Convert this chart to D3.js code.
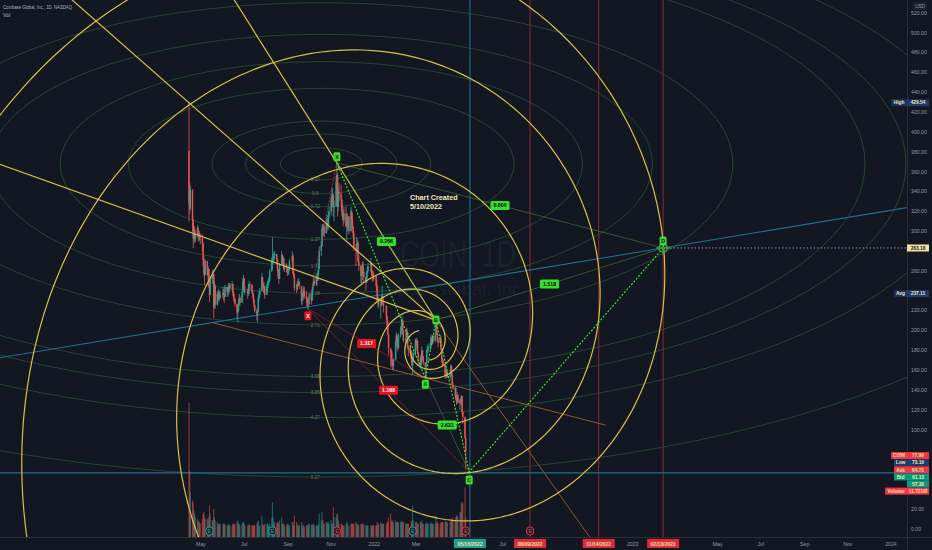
<!DOCTYPE html>
<html>
<head>
<meta charset="utf-8">
<title>COIN 1D</title>
<script src="https://cdn.jsdelivr.net/npm/d3@7"></script>
<style>
  body { margin: 0; background: #131722; }
  svg { display: block; font-family: "Liberation Sans", Arial, sans-serif; }
</style>
</head>
<body>
<script>
'use strict';

// ---------- daily candles (Apr 14 2021 -> May 10 2022) ----------
const firstSession = '2021-04-14';
const firstOpen = 381;
const holidays = ['2021-05-31', '2021-07-05', '2021-09-06', '2021-11-25', '2021-12-24',
  '2022-01-17', '2022-02-21', '2022-04-15'];

const closes = [
  328,323,342,312,293,302,292,297,303,294,297,296,294,
  288,271,258,256,270,256,262,245,236,252,254,257,224,245,226,237,232,238,233,236,
  238,236,234,244,239,240,246,243,245,247,238,233,232,227,218,220,226,233,228,238,249,253,
  240,240,237,243,247,246,239,237,231,225,220,215,219,233,236,240,254,246,243,245,236,
  244,247,249,251,260,270,271,273,275,277,272,262,254,252,266,276,268,273,262,266,263,258,
  260,262,270,275,258,255,243,242,246,248,249,245,230,232,238,240,235,232,225,226,227,
  236,230,240,245,250,247,252,250,258,262,280,285,303,302,305,298,306,308,305,317,320,
  333,334,337,325,325,350,357,325,340,338,332,320,318,311,318,305,305,315,300,320,312,
  305,298,283,280,285,288,270,265,255,258,266,259,254,248,258,260,265,268,258,255,256,252,
  251,244,230,233,226,226,234,235,226,225,214,205,196,182,180,171,168,164,171,189,
  195,192,182,195,200,205,210,200,190,190,200,198,183,180,172,165,170,177,190,
  185,190,178,172,165,170,180,174,168,163,167,180,183,183,185,193,188,194,190,196,206,198,190,
  188,192,181,172,170,165,154,155,158,153,157,164,155,145,142,142,131,128,135,127,
  130,128,134,118,113,92,78
];
const highs = [
  430,349,346,341,310,306,305,300,306,305,300,300,298,
  297,285,275,265,272,270,265,263,250,255,260,262,250,250,247,240,240,242,240,240,
  244,242,238,246,244,243,248,248,248,250,247,240,237,232,225,224,231,237,235,240,252,256,
  250,244,242,246,250,248,247,241,237,232,226,222,222,235,240,243,258,250,248,249,244,
  247,250,252,254,262,274,294,279,278,280,277,271,262,258,268,280,277,275,271,268,268,264,
  263,265,272,280,277,260,257,247,250,252,253,250,242,237,242,245,244,240,234,231,233,
  238,237,242,248,256,253,257,255,260,265,285,290,307,307,308,305,312,316,313,320,325,
  336,344,343,330,331,356,369,358,345,349,347,332,327,322,325,325,310,318,312,325,321,
  318,305,300,287,294,292,290,275,266,262,269,270,262,253,260,264,268,273,266,261,259,260,
  256,255,246,236,232,232,236,245,235,228,222,215,210,190,182,180,179,172,172,190,
  198,197,189,197,203,208,215,212,200,192,202,203,196,185,180,178,172,180,192,
  192,193,190,176,175,176,184,178,174,168,168,181,185,187,189,196,193,196,196,197,210,208,198,
  193,196,195,178,173,171,162,160,162,159,159,166,165,157,148,144,143,135,138,136,
  131,132,135,127,119,107,90
];
const lows = [
  310,317,321,300,283,290,288,289,294,290,290,291,287,
  280,265,255,246,256,255,250,243,229,240,247,248,212,222,222,225,227,230,230,232,
  232,230,228,234,234,234,236,238,240,240,235,230,228,224,212,208,219,226,225,228,238,244,
  238,236,232,235,237,240,237,233,228,223,218,210,208,222,230,233,242,240,238,237,232,
  236,240,243,246,249,259,262,267,268,272,267,259,252,247,255,268,266,264,260,259,259,255,
  256,256,261,268,256,253,240,238,240,244,245,242,226,226,230,234,232,228,223,221,223,
  226,226,231,236,245,245,245,245,250,256,265,275,285,295,295,294,298,300,302,302,313,
  316,326,324,315,310,325,340,315,320,330,325,315,312,305,308,304,291,300,297,304,305,
  302,294,280,265,277,282,269,260,248,247,251,256,248,240,248,253,258,259,255,249,251,250,
  245,240,228,224,222,212,224,232,225,218,210,204,195,175,164,163,165,160,160,170,
  184,188,179,183,193,196,204,196,188,182,192,195,182,174,168,164,155,168,174,
  180,182,176,165,162,161,173,170,165,152,153,168,177,178,180,184,185,186,187,188,198,196,188,
  183,187,180,168,163,164,152,151,153,152,150,155,154,144,140,133,130,125,127,126,
  120,125,126,116,106,91,60
];
// volume in millions
const volumes = [
  81,40,27,22,21,16,14,12,11,10,9,9,8,
  11,14,15,12,11,11,10,12,19,14,10,10,17,12,10,9,8,8,8,8,
  8,8,7,8,7,7,8,7,7,7,8,8,7,8,9,10,8,8,7,8,9,9,
  8,7,7,7,8,7,7,7,7,7,7,8,9,10,7,7,13,8,7,7,8,
  8,8,7,7,8,12,21,12,8,9,8,9,9,8,10,12,8,8,8,7,7,8,
  8,7,7,9,9,7,13,9,8,7,7,7,9,7,7,7,6,7,7,7,8,
  8,7,8,7,8,7,7,7,7,8,14,10,15,10,8,8,9,9,8,9,8,
  10,8,8,18,12,12,14,14,10,8,8,8,7,7,7,8,9,8,7,8,8,
  8,8,8,9,8,7,8,7,8,8,8,7,8,7,7,7,7,7,7,7,7,7,
  7,7,9,8,8,9,8,8,8,8,8,9,9,12,14,10,9,10,9,10,
  9,9,9,9,9,9,10,9,9,8,8,8,8,8,9,10,19,10,9,
  9,9,8,8,9,9,10,8,8,8,8,9,8,8,8,9,8,8,8,8,13,9,9,
  8,8,9,9,9,9,10,9,9,9,9,10,10,12,10,10,12,13,13,12,
  15,15,21,20,21,30,12
];

// ---------- drawings on the chart ----------
// XABCD pattern pivots [date, price]
const pivotX = ['2021-11-09', 369];
const pivotA = ['2022-03-14', 152];
const pivotB = ['2022-03-29', 210.5];
const pivotC = ['2022-05-15', 57.5];
const pivotD = ['2023-02-13', 283.2];
const redPivot = ['2021-09-29', 222];
const ratioXB = '0.266', ratioAC = '2.621', ratioBD = '1.518', ratioXD = '0.604';
const redRatioA = '1.317', redRatioC = '1.168';

// other anchors
const mayLow = ['2021-05-17', 208];
const ipoHigh = ['2021-04-14', 429.54];
const fanAnchor = ['2021-04-26', 296.4];
const orangeEnd = ['2022-11-01', -8];
const brownEndDate = '2022-11-24';
const supportPrice = 56.5;

// fib circles: centre, unit radius (days, price), levels
const fibCenter = ['2021-10-18', 368];
const fibUnit = [214.6, 59.9];
const fibLevels = [0.27, 0.5, 0.72, 1.27, 1.72, 2.18, 2.71, 3.58, 3.85, 4.27, 5.27];

// fib spirals: common centre, radius (days, price) at the reference turn
const spiralCenter = ['2022-03-13', 185.4];
const spiralRadii = [[327.8, 259.5], [239.5, 189.6], [147.4, 116.7]];
const spiralGrowth = 0.2646;

// time markers
const cursorDate = '2022-05-16';
const timeMarks = ['2022-08-09', '2022-11-14', '2023-02-13'];
const timeMarkLabels = ['08/09/2022', '11/14/2022', '02/13/2023'];
const cursorLabel = '05/16/2022';

// earnings flags
const earningsDates = ['2021-05-13', '2021-08-10', '2021-11-09', '2022-02-24', '2022-05-10', '2022-08-09'];
const earningsBeat = [true, true, false, true, false, null];

// price axis
const priceTicks = d3.range(0, 521, 20);
const lastPriceBadges = [
  ['COIN', '77.99', '#f23645'],
  ['Low', '73.19', '#1e3a6e'],
  ['Ask', '64.71', '#f23645'],
  ['Bid', '61.13', '#089981'],
  ['', '57.30', '#089981'],
  ['Volume', '11.721M', '#f23645']
];

// ---------- setup ----------
const parseDate = d3.timeParse('%Y-%m-%d');
const fmtDay = d3.timeFormat('%Y-%m-%d');
const addDays = (d, n) => new Date(+d + n * 864e5);

const width = 932, height = 550;
const plotRight = 907, plotBottom = 537;

const x = d3.scaleTime()
  .domain([parseDate('2021-05-01'), parseDate('2024-01-01')])
  .range([201, 891]);
const y = d3.scaleLinear().domain([0, 520]).range([529, 13]);
const yVol = d3.scaleLinear().domain([0, 81]).range([plotBottom, 403]);
const pt = p => [x(parseDate(p[0])), y(p[1])];

function extendLine(p1, p2, endDate) {
  const t1 = +parseDate(p1[0]), t2 = +parseDate(p2[0]), te = +parseDate(endDate);
  return [endDate, p1[1] + (p2[1] - p1[1]) * (te - t1) / (t2 - t1)];
}

// trading sessions
const days = [];
let cur = parseDate(firstSession);
while (days.length < closes.length) {
  const wd = cur.getDay();
  if (wd !== 0 && wd !== 6 && !holidays.includes(fmtDay(cur))) days.push(cur);
  cur = d3.timeDay.round(addDays(cur, 1));
}
const candles = days.map((d, i) => {
  const o = i ? closes[i - 1] : firstOpen;
  const c = closes[i];
  return { date: d, open: o, close: c,
    high: Math.max(highs[i], o, c), low: Math.min(lows[i], o, c), vol: volumes[i] };
});

const svg = d3.select('body').append('svg')
  .attr('width', width).attr('height', height);
svg.append('rect').attr('width', width).attr('height', height).attr('fill', '#131722');
svg.append('defs').append('clipPath').attr('id', 'plotClip')
  .append('rect').attr('width', plotRight).attr('height', plotBottom);
const plot = svg.append('g').attr('clip-path', 'url(#plotClip)');

// watermark
plot.append('text').attr('x', 458).attr('y', 267).attr('text-anchor', 'middle')
  .attr('font-size', 37).attr('textLength', 116).attr('lengthAdjust', 'spacingAndGlyphs')
  .attr('fill', 'rgba(178,181,190,0.08)').text('COIN, 1D');
plot.append('text').attr('x', 438).attr('y', 295).attr('text-anchor', 'middle')
  .attr('font-size', 17).attr('textLength', 177).attr('lengthAdjust', 'spacingAndGlyphs')
  .attr('fill', 'rgba(178,181,190,0.08)').text('Coinbase Global, Inc.');

// fib circles
const fc = pt(fibCenter);
const fcDate = parseDate(fibCenter[0]);
fibLevels.forEach(L => {
  const rx = x(addDays(fcDate, fibUnit[0] * L)) - fc[0];
  const ry = fc[1] - y(fibCenter[1] + fibUnit[1] * L);
  plot.append('ellipse').attr('cx', fc[0]).attr('cy', fc[1]).attr('rx', rx).attr('ry', ry)
    .attr('fill', 'none').attr('stroke', 'rgba(76,175,80,0.34)').attr('stroke-width', 0.9);
  plot.append('text').attr('x', fc[0] - 6).attr('y', fc[1] + ry + 1.6)
    .attr('text-anchor', 'middle').attr('font-size', 4.6).attr('fill', '#5f7f62').text(L);
});

// vertical time markers
plot.append('line').attr('x1', x(parseDate(cursorDate))).attr('x2', x(parseDate(cursorDate)))
  .attr('y1', 0).attr('y2', plotBottom).attr('stroke', '#1f5f80').attr('stroke-width', 1.2);
timeMarks.forEach(d => {
  const xx = x(parseDate(d));
  plot.append('line').attr('x1', xx).attr('x2', xx).attr('y1', 0).attr('y2', plotBottom)
    .attr('stroke', '#8e2830').attr('stroke-width', 1);
});

// teal trend line through May-2021 low and D, horizontal support
const teal0 = extendLine(mayLow, pivotD, '2020-06-01');
const teal1 = extendLine(mayLow, pivotD, '2024-06-01');
plot.append('line').attr('x1', pt(teal0)[0]).attr('y1', pt(teal0)[1])
  .attr('x2', pt(teal1)[0]).attr('y2', pt(teal1)[1])
  .attr('stroke', '#1f6f8c').attr('stroke-width', 1.1);
plot.append('line').attr('x1', 0).attr('x2', plotRight)
  .attr('y1', y(supportPrice)).attr('y2', y(supportPrice))
  .attr('stroke', '#1f6f8c').attr('stroke-width', 1.3);

// brown lines
const brownEnd = extendLine(mayLow, pivotA, brownEndDate);
plot.append('line').attr('x1', pt(mayLow)[0]).attr('y1', pt(mayLow)[1])
  .attr('x2', pt(brownEnd)[0]).attr('y2', pt(brownEnd)[1])
  .attr('stroke', '#8a5a2b').attr('stroke-width', 1);
plot.append('line').attr('x1', pt(pivotB)[0]).attr('y1', pt(pivotB)[1])
  .attr('x2', pt(orangeEnd)[0]).attr('y2', pt(orangeEnd)[1])
  .attr('stroke', '#8a5a2b').attr('stroke-width', 1);

// volume
plot.append('g').selectAll('rect').data(candles).enter().append('rect')
  .attr('x', d => x(d.date) - 0.6).attr('width', 1.2)
  .attr('y', d => yVol(d.vol)).attr('height', d => plotBottom - yVol(d.vol))
  .attr('fill', d => d.close >= d.open ? 'rgba(38,166,154,0.5)' : 'rgba(239,83,80,0.5)');

// candles
const cg = plot.append('g');
cg.selectAll('line').data(candles).enter().append('line')
  .attr('x1', d => x(d.date)).attr('x2', d => x(d.date))
  .attr('y1', d => y(d.high)).attr('y2', d => y(d.low))
  .attr('stroke', d => d.close >= d.open ? '#26a69a' : '#ef5350').attr('stroke-width', 0.8);
cg.selectAll('rect').data(candles).enter().append('rect')
  .attr('x', d => x(d.date) - 0.7).attr('width', 1.4)
  .attr('y', d => y(Math.max(d.open, d.close)))
  .attr('height', d => Math.max(1, Math.abs(y(d.open) - y(d.close))))
  .attr('fill', d => d.close >= d.open ? '#26a69a' : '#ef5350');

// fib spirals (inner turns stop once they get tiny)
const sc = pt(spiralCenter);
const scDate = parseDate(spiralCenter[0]);
spiralRadii.forEach(([rd, rp]) => {
  const rx = x(addDays(scDate, rd)) - sc[0];
  const ry = sc[1] - y(spiralCenter[1] + rp);
  const pts = d3.range(2.0, 24, 0.02)
    .map(t => [t, Math.exp(-spiralGrowth * (t - 2 * Math.PI))])
    .filter(([t, g]) => rx * g >= 14)
    .map(([t, g]) => [sc[0] + rx * g * Math.cos(t), sc[1] + ry * g * Math.sin(t)]);
  plot.append('path').attr('d', d3.line()(pts)).attr('fill', 'none')
    .attr('stroke', '#d9c04a').attr('stroke-width', 1.2);
});

// yellow fan lines from B
[extendLine(pivotB, ipoHigh, '2020-06-01'),
 extendLine(pivotB, pivotX, '2021-05-01'),
 extendLine(pivotB, fanAnchor, '2020-06-01')].forEach(p => {
  plot.append('line').attr('x1', pt(pivotB)[0]).attr('y1', pt(pivotB)[1])
    .attr('x2', pt(p)[0]).attr('y2', pt(p)[1])
    .attr('stroke', '#d9c04a').attr('stroke-width', 1.2);
});

// red pattern
[pivotX, pivotA, pivotC].forEach((p, i) => {
  plot.append('line').attr('x1', pt(redPivot)[0]).attr('y1', pt(redPivot)[1])
    .attr('x2', pt(p)[0]).attr('y2', pt(p)[1])
    .attr('stroke', i === 0 ? '#e0202a' : 'rgba(200,40,50,0.55)')
    .attr('stroke-width', 0.9).attr('stroke-dasharray', i === 0 ? '2,1.5' : null);
});

// XABCD faint diagonals
[[pivotX, pivotB], [pivotA, pivotC], [pivotB, pivotD], [pivotX, pivotD]].forEach(([p, q]) => {
  plot.append('line').attr('x1', pt(p)[0]).attr('y1', pt(p)[1])
    .attr('x2', pt(q)[0]).attr('y2', pt(q)[1])
    .attr('stroke', 'rgba(90,150,60,0.5)').attr('stroke-width', 1);
});
// XABCD legs
plot.append('path')
  .attr('d', d3.line()([pivotX, pivotA, pivotB, pivotC, pivotD].map(pt)))
  .attr('fill', 'none').attr('stroke', '#3df02e').attr('stroke-width', 1.1)
  .attr('stroke-dasharray', '2,1.6');

// D crosshair marker + dotted level to axis
const dp = pt(pivotD);
plot.append('line').attr('x1', dp[0]).attr('x2', plotRight).attr('y1', dp[1]).attr('y2', dp[1])
  .attr('stroke', '#9598a1').attr('stroke-width', 1).attr('stroke-dasharray', '1.5,2');
plot.append('circle').attr('cx', dp[0]).attr('cy', dp[1]).attr('r', 4)
  .attr('fill', 'none').attr('stroke', '#3b9e3b').attr('stroke-width', 1.6);
plot.append('path')
  .attr('d', `M${dp[0] - 7},${dp[1]}H${dp[0] + 7}M${dp[0]},${dp[1] - 7}V${dp[1] + 7}`)
  .attr('stroke', '#3b9e3b').attr('stroke-width', 1.4);

// labels on chart
function tag(g, cx, cy, text, fill, color) {
  const fs = 5.2;
  const w = Math.max(7, text.length * fs * 0.6 + 3.5), h = 9;
  g.append('rect').attr('x', cx - w / 2).attr('y', cy - h / 2).attr('width', w).attr('height', h)
    .attr('rx', 1.5).attr('fill', fill);
  g.append('text').attr('x', cx).attr('y', cy + fs * 0.36).attr('text-anchor', 'middle')
    .attr('font-size', fs).attr('font-weight', 'bold').attr('fill', color).text(text);
}
const mid = (p, q) => [(pt(p)[0] + pt(q)[0]) / 2, (pt(p)[1] + pt(q)[1]) / 2];
const green = '#36e02a', red = '#e3141d';
tag(plot, pt(pivotX)[0], pt(pivotX)[1] - 6, 'X', green, '#000');
tag(plot, pt(pivotA)[0], pt(pivotA)[1] + 6, 'A', green, '#000');
tag(plot, pt(pivotB)[0], pt(pivotB)[1], 'B', green, '#000');
tag(plot, pt(pivotC)[0], pt(pivotC)[1] + 8, 'C', green, '#000');
tag(plot, pt(pivotD)[0], pt(pivotD)[1] - 7, 'D', green, '#000');
tag(plot, ...mid(pivotX, pivotB), ratioXB, green, '#000');
tag(plot, ...mid(pivotA, pivotC), ratioAC, green, '#000');
tag(plot, ...mid(pivotB, pivotD), ratioBD, green, '#000');
tag(plot, ...mid(pivotX, pivotD), ratioXD, green, '#000');
tag(plot, pt(redPivot)[0], pt(redPivot)[1] + 7, 'X', red, '#fff');
tag(plot, ...mid(redPivot, pivotA), redRatioA, red, '#fff');
tag(plot, ...mid(redPivot, pivotC), redRatioC, red, '#fff');

plot.append('text').attr('x', 410).attr('y', 200).attr('font-size', 7.2).attr('font-weight', 600)
  .attr('fill', '#f2e8c0').text('Chart Created');
plot.append('text').attr('x', 410).attr('y', 208.5).attr('font-size', 7.2).attr('font-weight', 600)
  .attr('fill', '#f2e8c0').text('5/10/2022');

// earnings flags
earningsDates.forEach((d, i) => {
  const xx = x(parseDate(d));
  const col = earningsBeat[i] === null ? '#f23645' : (earningsBeat[i] ? '#26a69a' : '#f23645');
  plot.append('rect').attr('x', xx - 3.5).attr('y', 527).attr('width', 7).attr('height', 8).attr('rx', 3)
    .attr('fill', '#1e222d').attr('stroke', col).attr('stroke-width', 0.9);
  plot.append('text').attr('x', xx).attr('y', 533).attr('text-anchor', 'middle')
    .attr('font-size', 5).attr('fill', col).text('E');
});

// ---------- axes ----------
const axisColor = '#2a2e39', labelColor = '#9598a1';
svg.append('line').attr('x1', plotRight + 0.5).attr('x2', plotRight + 0.5).attr('y1', 0).attr('y2', height)
  .attr('stroke', axisColor);
svg.append('line').attr('x1', 0).attr('x2', width).attr('y1', plotBottom + 0.5).attr('y2', plotBottom + 0.5)
  .attr('stroke', axisColor);

// right-axis badges (y positions)
const bottomBadgeTop = y(77.99) + 4;
const rightBadgeYs = [y(429.54), y(pivotD[1]), y(237.11)]
  .concat(lastPriceBadges.map((b, i) => bottomBadgeTop + i * 7.1));

const ticksG = svg.append('g');
priceTicks.forEach(p => {
  const yy = y(p);
  if (rightBadgeYs.some(b => Math.abs(b - yy) < 6)) return;
  ticksG.append('text').attr('x', 911).attr('y', yy + 1.8).attr('font-size', 5.2)
    .attr('fill', labelColor).text(d3.format('.2f')(p));
});
svg.append('rect').attr('x', 913).attr('y', 2).attr('width', 14).attr('height', 8).attr('rx', 1.5)
  .attr('fill', '#1e222d');
svg.append('text').attr('x', 920).attr('y', 7.8).attr('text-anchor', 'middle').attr('font-size', 4.6)
  .attr('fill', labelColor).text('USD');

function axisBadge(yc, label, value, labelFill, valueFill, color) {
  const fs = 4.8, h = 7;
  const vw = 22;
  svg.append('rect').attr('x', plotRight).attr('y', yc - h / 2).attr('width', vw).attr('height', h)
    .attr('fill', valueFill);
  svg.append('text').attr('x', plotRight + vw / 2).attr('y', yc + fs * 0.36).attr('text-anchor', 'middle')
    .attr('font-size', fs).attr('font-weight', 'bold').attr('fill', color).text(value);
  if (label) {
    const lw = label.length * fs * 0.62 + 4;
    svg.append('rect').attr('x', plotRight - lw).attr('y', yc - h / 2).attr('width', lw).attr('height', h)
      .attr('fill', labelFill);
    svg.append('text').attr('x', plotRight - lw / 2).attr('y', yc + fs * 0.36).attr('text-anchor', 'middle')
      .attr('font-size', fs).attr('font-weight', 'bold').attr('fill', color).text(label);
  }
}
axisBadge(rightBadgeYs[0], 'High', '429.54', '#1a3260', '#1e3a6e', '#f3e6a6');
axisBadge(rightBadgeYs[1], '', '283.18', '#f3e3a0', '#f3e3a0', '#1e222d');
axisBadge(rightBadgeYs[2], 'Avg', '237.11', '#1a3260', '#1e3a6e', '#f3e6a6');
lastPriceBadges.forEach((b, i) => {
  axisBadge(rightBadgeYs[3 + i], b[0], b[1], b[2], b[2], '#f3e6a6');
});

// time axis
const badgeXs = [cursorDate].concat(timeMarks).map(d => x(parseDate(d)));
const monthTicks = d3.timeMonth.every(2).range(parseDate('2021-05-01'), parseDate('2024-01-02'));
monthTicks.forEach(d => {
  const xx = x(d);
  if (badgeXs.some(b => Math.abs(b - xx) < 22)) return;
  const txt = d.getMonth() === 0 ? d3.timeFormat('%Y')(d) : d3.timeFormat('%b')(d);
  svg.append('text').attr('x', xx).attr('y', 546).attr('text-anchor', 'middle')
    .attr('font-size', 5.2).attr('fill', labelColor).text(txt);
});
function timeBadge(xc, text, fill) {
  svg.append('rect').attr('x', xc - 16).attr('y', 539).attr('width', 32).attr('height', 9).attr('fill', fill);
  svg.append('text').attr('x', xc).attr('y', 545.6).attr('text-anchor', 'middle')
    .attr('font-size', 5).attr('font-weight', 'bold').attr('fill', '#f3e6a6').text(text);
}
timeBadge(badgeXs[0], cursorLabel, '#1f9f8c');
timeMarks.forEach((d, i) => timeBadge(badgeXs[i + 1], timeMarkLabels[i], '#e3283a'));

// legend
svg.append('text').attr('x', 3).attr('y', 8.5).attr('font-size', 5.4).attr('textLength', 69)
  .attr('lengthAdjust', 'spacingAndGlyphs').attr('fill', '#b2b5be')
  .text('Coinbase Global, Inc., 1D, NASDAQ');
svg.append('text').attr('x', 3).attr('y', 17).attr('font-size', 5.4).attr('fill', '#b2b5be').text('Vol');
</script>
</body>
</html>
